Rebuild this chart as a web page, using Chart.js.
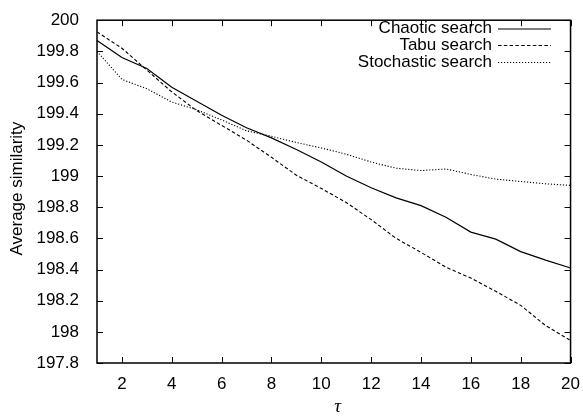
<!DOCTYPE html>
<html>
<head>
<meta charset="utf-8">
<script src="https://cdn.jsdelivr.net/npm/chart.js@4"></script>
<style>
  html, body { margin: 0; padding: 0; background: #fff; }
  #wrap { width: 583px; height: 418px; }
</style>
</head>
<body>
<div id="wrap"><canvas id="chart" width="583" height="418"></canvas></div>
<script>
// data (tau = 1..20)
const tau = [1, 2, 3, 4, 5, 6, 7, 8, 9, 10, 11, 12, 13, 14, 15, 16, 17, 18, 19, 20];
const chaotic = [199.87, 199.76, 199.69, 199.57, 199.48, 199.39, 199.31, 199.245, 199.17, 199.09,
                 199.0, 198.925, 198.86, 198.81, 198.735, 198.64, 198.595, 198.515, 198.46, 198.41];
const tabu = [199.925, 199.82, 199.68, 199.54, 199.42, 199.325, 199.23, 199.12, 199.005, 198.92,
              198.83, 198.72, 198.6, 198.51, 198.415, 198.345, 198.26, 198.17, 198.04, 197.945];
const stochastic = [199.8, 199.62, 199.56, 199.475, 199.425, 199.36, 199.29, 199.255, 199.215, 199.18,
                    199.14, 199.09, 199.05, 199.035, 199.045, 199.01, 198.98, 198.965, 198.95, 198.94];
const seriesNames = ['Chaotic search', 'Tabu search', 'Stochastic search'];
const xTicks = [2, 4, 6, 8, 10, 12, 14, 16, 18, 20];
const yTicks = [197.8, 198, 198.2, 198.4, 198.6, 198.8, 199, 199.2, 199.4, 199.6, 199.8, 200];

const FONT = '"Liberation Sans", Arial, Helvetica, sans-serif';
const dashes = [[], [3.5, 2.3], [1.2, 1.8]];

const pts = ys => tau.map((x, i) => ({ x, y: ys[i] }));

// gnuplot-style frame, inward ticks, legend and axis titles
const gnuFrame = {
  id: 'gnuFrame',
  afterDatasetsDraw(chart) {
    const { ctx, chartArea: a, scales: { x, y } } = chart;
    ctx.save();
    ctx.strokeStyle = '#000';
    ctx.lineWidth = 1.5;
    ctx.strokeRect(a.left, a.top, a.right - a.left, a.bottom - a.top);
    ctx.lineWidth = 1;
    ctx.beginPath();
    xTicks.forEach(v => {
      const px = Math.round(x.getPixelForValue(v)) + 0.5;
      ctx.moveTo(px, a.bottom); ctx.lineTo(px, a.bottom - 6);
      ctx.moveTo(px, a.top); ctx.lineTo(px, a.top + 6);
    });
    yTicks.forEach(v => {
      const py = Math.round(y.getPixelForValue(v)) + 0.5;
      ctx.moveTo(a.left, py); ctx.lineTo(a.left + 6, py);
      ctx.moveTo(a.right, py); ctx.lineTo(a.right - 6, py);
    });
    ctx.stroke();

    // legend
    ctx.font = '17px ' + FONT;
    ctx.fillStyle = '#000';
    ctx.textAlign = 'right';
    ctx.textBaseline = 'middle';
    const rows = [28.5, 45, 62];
    chart.data.datasets.forEach((ds, i) => {
      ctx.fillText(ds.label, 492, rows[i]);
      ctx.setLineDash(ds.borderDash);
      ctx.lineWidth = ds.borderWidth;
      ctx.beginPath();
      ctx.moveTo(498, rows[i] + 0.5);
      ctx.lineTo(551, rows[i] + 0.5);
      ctx.stroke();
    });
    ctx.setLineDash([]);

    // axis titles
    ctx.textAlign = 'center';
    ctx.font = 'italic 19px "Liberation Serif", "DejaVu Serif", serif';
    ctx.fillText('\u03C4', (a.left + a.right) / 2 + 4, 407);
    ctx.font = '17px ' + FONT;
    ctx.translate(17, (a.top + a.bottom) / 2 - 3);
    ctx.rotate(-Math.PI / 2);
    ctx.fillText('Average similarity', 0, 0);
    ctx.restore();
  }
};

new Chart(document.getElementById('chart'), {
  type: 'line',
  data: {
    datasets: [chaotic, tabu, stochastic].map((ys, i) => ({
      label: seriesNames[i],
      data: pts(ys),
      borderColor: '#000',
      borderWidth: i === 0 ? 1.2 : 1.1,
      borderDash: dashes[i],
      pointRadius: 0,
      tension: 0,
      fill: false
    }))
  },
  options: {
    responsive: false,
    animation: false,
    layout: { padding: { left: 0, right: 11, top: 14, bottom: 0 } },
    plugins: { legend: { display: false }, tooltip: { enabled: false } },
    scales: {
      x: {
        type: 'linear', min: 1, max: 20,
        afterBuildTicks: s => { s.ticks = xTicks.map(v => ({ value: v })); },
        afterFit: s => { s.height = 55; },
        grid: { display: false },
        border: { display: false },
        ticks: { color: '#000', font: { family: FONT, size: 17 }, padding: 3, maxRotation: 0 }
      },
      y: {
        type: 'linear', min: 197.8, max: 200,
        afterBuildTicks: s => { s.ticks = yTicks.map(v => ({ value: v })); },
        afterFit: s => { s.width = 97; },
        grid: { display: false },
        border: { display: false },
        ticks: {
          color: '#000', font: { family: FONT, size: 17 }, padding: 10,
          callback: v => String(Number(v.toFixed(1)))
        }
      }
    }
  },
  plugins: [gnuFrame]
});
</script>
</body>
</html>
